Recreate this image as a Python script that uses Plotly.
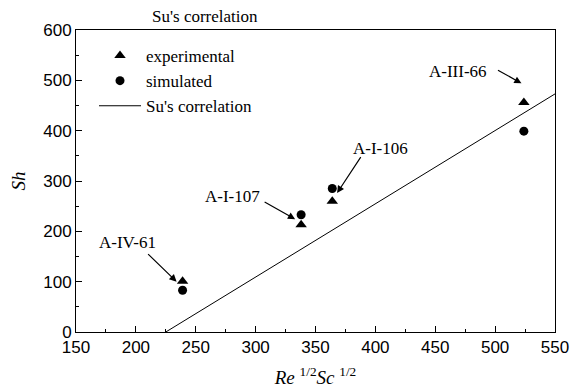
import plotly.graph_objects as go

# Data
cases = ["A-IV-61", "A-I-107", "A-I-106", "A-III-66"]
x_vals = [239, 338, 364, 524]          # Re^1/2 Sc^1/2
sh_experimental = [101, 213, 260, 456]
sh_simulated = [83, 233, 285, 399]
su_x = [225, 550]
su_y = [0, 473]

serif = "Liberation Serif, Times New Roman, serif"
sans = "Liberation Sans, Arial, sans-serif"

fig = go.Figure()
fig.add_trace(go.Scatter(
    x=x_vals, y=sh_experimental, mode="markers", name="experimental",
    marker=dict(symbol="triangle-up", size=10, color="black")))
fig.add_trace(go.Scatter(
    x=x_vals, y=sh_simulated, mode="markers", name="simulated",
    marker=dict(symbol="circle", size=9, color="black")))
fig.add_trace(go.Scatter(
    x=su_x, y=su_y, mode="lines", name="Su's correlation",
    line=dict(color="black", width=1)))

# label annotations (text) and arrows
label_pos = {  # text centre (data units)
    "A-IV-61": (193, 177),
    "A-I-107": (281, 269),
    "A-I-106": (404, 365),
    "A-III-66": (469, 517),
}
arrow_head = {  # head (data units), tail offset (px)
    "A-IV-61": (234, 100, -30, -29),
    "A-I-107": (333, 224, -32, -18),
    "A-I-106": (368, 276, 25, -38),
    "A-III-66": (522, 494, -25, -14),
}
annotations = []
for c in cases:
    tx, ty = label_pos[c]
    annotations.append(dict(x=tx, y=ty, xref="x", yref="y", text=c,
                            showarrow=False,
                            font=dict(family=serif, size=17, color="black")))
    hx, hy, ax, ay = arrow_head[c]
    annotations.append(dict(x=hx, y=hy, xref="x", yref="y", text=" ",
                            showarrow=True, ax=ax, ay=ay,
                            arrowhead=2, arrowsize=1.2, arrowwidth=1.2,
                            arrowcolor="black", font=dict(size=1)))
annotations.append(dict(x=(205 - 76) / 479, y=(332 - 17) / 302, xref="paper", yref="paper",
                        text="Su's correlation",
                        showarrow=False, xanchor="center", yanchor="middle",
                        font=dict(family=serif, size=17, color="black")))

axis_common = dict(
    showline=True, linecolor="black", linewidth=1, mirror=True,
    ticks="inside", ticklen=6, tickcolor="black", tickwidth=1,
    showgrid=False, zeroline=False,
    tickfont=dict(family=sans, size=17, color="black"),
)

# the page adds an 8 px body margin, so margins are offset accordingly
fig.update_layout(
    width=583, height=390,
    margin=dict(l=68, r=36, t=22, b=66, autoexpand=False),
    paper_bgcolor="white", plot_bgcolor="white",
    showlegend=True,
    legend=dict(x=(94 - 76) / 479, y=(332 - 38) / 302, xanchor="left", yanchor="top",
                bgcolor="rgba(0,0,0,0)", borderwidth=0,
                font=dict(family=serif, size=17, color="black"),
                tracegroupgap=0, itemwidth=42),
    xaxis=dict(range=[150, 550], dtick=50, tick0=150,
               minor=dict(ticks="inside", ticklen=3, dtick=25, tickcolor="black"),
               title=dict(text="<i>Re</i> <sup>1/2</sup><i>Sc</i> <sup>1/2</sup>",
                          font=dict(family=serif, size=19, color="black"), standoff=14),
               **axis_common),
    yaxis=dict(range=[0, 600], dtick=100,
               minor=dict(ticks="inside", ticklen=3, dtick=50, tickcolor="black"),
               title=dict(text="<i>Sh</i>", font=dict(family=serif, size=19, color="black"),
                          standoff=20),
               **axis_common),
    annotations=annotations,
)

fig.write_html("out.html")
